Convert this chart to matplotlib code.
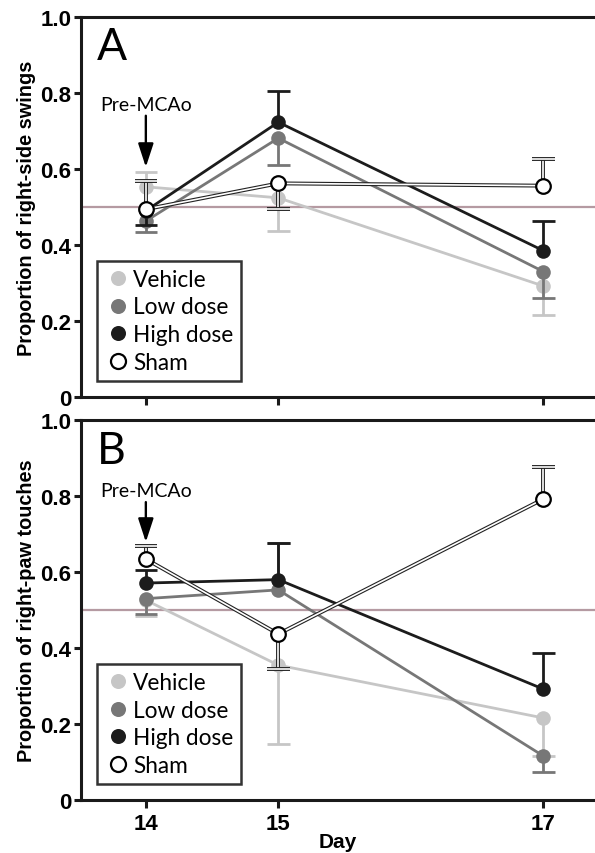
import numpy as np
import matplotlib
matplotlib.use("Agg")
import matplotlib.pyplot as plt
import matplotlib.patheffects as pe

days = [14, 15, 17]
groups = ["Vehicle", "Low dose", "High dose", "Sham"]

# panel A: proportion of right-side swings (means, signed error-bar length)
swing_vehicle = [0.553, 0.524, 0.292]
swing_low = [0.463, 0.681, 0.330]
swing_high = [0.490, 0.723, 0.385]
swing_sham = [0.494, 0.562, 0.556]
swing_err_vehicle = [0.040, -0.087, -0.076]
swing_err_low = [-0.028, -0.070, -0.070]
swing_err_high = [-0.037, 0.081, 0.077]
swing_err_sham = [0.073, -0.068, 0.069]

# panel B: proportion of right-paw touches
touch_vehicle = [0.526, 0.355, 0.216]
touch_low = [0.530, 0.553, 0.116]
touch_high = [0.571, 0.580, 0.292]
touch_sham = [0.634, 0.437, 0.792]
touch_err_vehicle = [-0.042, -0.208, -0.100]
touch_err_low = [-0.040, 0.123, -0.042]
touch_err_high = [0.035, 0.096, 0.094]
touch_err_sham = [0.035, -0.092, 0.085]

colors = {"Vehicle": "#c6c6c6", "Low dose": "#777777", "High dose": "#1c1c1c", "Sham": "white"}
chance = 0.5

TICK_FONT = "Liberation Sans"
TEXT_FONT = "Lato"

outline = [pe.Stroke(linewidth=2.8, foreground="#222222"), pe.Normal()]


def draw_panel(ax, series, errs, letter, ylabel, arrow_top, arrow_tip):
    ax.axhline(chance, color="#b59aa2", lw=1.6, zorder=1)
    for i, (name, y, e) in enumerate(zip(groups, series, errs)):
        y = np.asarray(y)
        end = y + np.asarray(e)
        z = 2 + i
        if name == "Sham":
            line_kw = dict(color="white", lw=1.2, path_effects=outline)
            mk = dict(marker="o", ms=10.5, mfc="white", mec="black", mew=1.6)
        else:
            line_kw = dict(color=colors[name], lw=2.0)
            mk = dict(marker="o", ms=10.5, mfc=colors[name], mec=colors[name], mew=0)
        # one-sided error bars
        for xd, y0, y1 in zip(days, y, end):
            ax.plot([xd, xd], [y0, y1], zorder=z, solid_capstyle="butt", **line_kw)
            ax.plot([xd - 0.085, xd + 0.085], [y1, y1], zorder=z, solid_capstyle="butt", **line_kw)
        ax.plot(days, y, zorder=z + 0.5, **line_kw)
        ax.plot(days, y, ls="none", zorder=z + 0.6, label=name, **mk)

    ax.set_xlim(13.51, 17.39)
    ax.set_ylim(0, 1.0)
    ax.set_xticks(days)
    ax.set_yticks([0, 0.2, 0.4, 0.6, 0.8, 1.0])
    ax.set_yticklabels(["0", "0.2", "0.4", "0.6", "0.8", "1.0"],
                       fontfamily=TICK_FONT, fontweight="bold", fontsize=16)
    ax.spines["right"].set_visible(False)
    for s in ["left", "bottom", "top"]:
        ax.spines[s].set_linewidth(2.2)
        ax.spines[s].set_color("#1a1a1a")
    ax.tick_params(axis="y", width=2.2, length=5, color="#1a1a1a", pad=2)
    ax.tick_params(axis="x", width=2.2, length=6, color="#1a1a1a", pad=3)
    ax.set_ylabel(ylabel, fontfamily=TICK_FONT, fontweight="bold", fontsize=14.3, labelpad=3)

    ax.text(0.031, 0.975, letter, transform=ax.transAxes, ha="left", va="top",
            fontfamily=TEXT_FONT, fontsize=32)
    ax.annotate("", xy=(14, arrow_tip), xytext=(14, arrow_top),
                arrowprops=dict(arrowstyle="-|>,head_length=0.55,head_width=0.18",
                                color="black", lw=1.7, mutation_scale=26,
                                shrinkA=0, shrinkB=0))
    ax.text(14, arrow_top + 0.008, "Pre-MCAo", ha="center", va="bottom",
            fontfamily=TEXT_FONT, fontsize=14)

    leg = ax.legend(loc="lower left", bbox_to_anchor=(0.031, 0.042), borderaxespad=0,
                    frameon=True, fancybox=False, handletextpad=0.05, handlelength=1.2,
                    labelspacing=0.3, borderpad=0.35, markerscale=1.03,
                    prop={"family": TEXT_FONT, "size": 16.3})
    leg.get_frame().set_edgecolor("black")
    leg.get_frame().set_linewidth(1.8)
    leg.set_zorder(20)


fig = plt.figure(figsize=(5.95, 8.54), dpi=100)
axA = fig.add_axes([0.136, 0.534, 0.864, 0.445])
axB = fig.add_axes([0.136, 0.062, 0.864, 0.445])

draw_panel(axA,
           [swing_vehicle, swing_low, swing_high, swing_sham],
           [swing_err_vehicle, swing_err_low, swing_err_high, swing_err_sham],
           "A", "Proportion of right-side swings", 0.74, 0.605)
axA.set_xticklabels([])

draw_panel(axB,
           [touch_vehicle, touch_low, touch_high, touch_sham],
           [touch_err_vehicle, touch_err_low, touch_err_high, touch_err_sham],
           "B", "Proportion of right-paw touches", 0.784, 0.679)
axB.set_xticklabels(["14", "15", "17"], fontfamily=TICK_FONT, fontweight="bold", fontsize=16)
axB.set_xlabel("Day", fontfamily=TICK_FONT, fontweight="bold", fontsize=15, labelpad=-1)

fig.savefig("out.png", dpi=100)
